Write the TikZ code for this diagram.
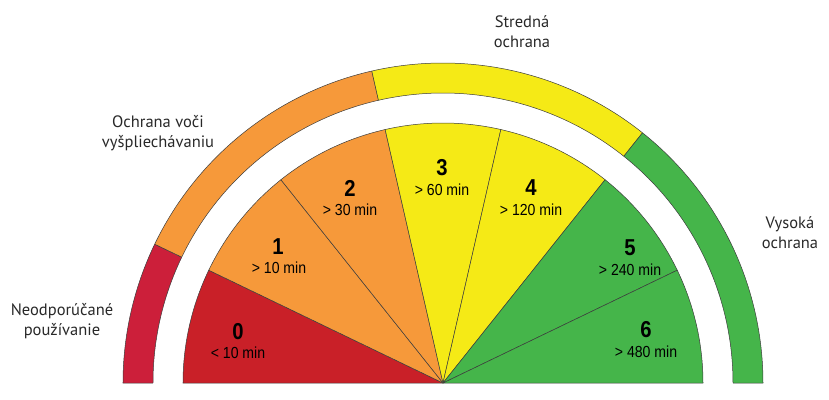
\documentclass[tikz,border=0pt]{standalone}
\usepackage{fontspec}
\setmainfont{PT Sans}
\newfontfamily\condf[FakeStretch=0.88]{Liberation Sans}
\definecolor{redA}{RGB}{201,32,40}
\definecolor{redR}{RGB}{204,31,58}
\definecolor{orangeA}{RGB}{246,153,58}
\definecolor{yellowA}{RGB}{245,234,22}
\definecolor{greenA}{RGB}{69,181,74}
\definecolor{linegray}{RGB}{60,60,60}
\definecolor{labgray}{RGB}{40,40,40}
\begin{document}
\begin{tikzpicture}[x=1pt,y=1pt,
  seg/.style={draw=linegray, line width=0.5pt, line join=round},
  lab/.style={text=labgray, font=\fontsize{16.5}{20}\selectfont, align=center},
  num/.style={font=\condf\bfseries\fontsize{23}{23}\selectfont, text=black},
  mins/.style={font=\condf\fontsize{16}{16}\selectfont, text=black}]
\useasboundingbox (-443,-16) rectangle (386,383);
\coordinate (C) at (0,0);
% inner fan sectors
\foreach \i/\col in {0/redA,1/orangeA,2/orangeA,3/yellowA,4/yellowA,5/greenA,6/greenA}{
  \pgfmathsetmacro{\sa}{180-\i*180/7}
  \pgfmathsetmacro{\ea}{180-(\i+1)*180/7}
  \path[seg, fill=\col] (C) -- (\sa:260) arc[start angle=\sa, end angle=\ea, radius=260] -- cycle;
}
% outer ring segments
\foreach \sa/\ea/\col in {180/154.2857/redR, 154.2857/102.8571/orangeA, 102.8571/51.4286/yellowA, 51.4286/0/greenA}{
  \path[seg, fill=\col] (\sa:290) -- (\sa:320) arc[start angle=\sa, end angle=\ea, radius=320]
    -- (\ea:290) arc[start angle=\ea, end angle=\sa, radius=290] -- cycle;
}
% sector labels
\node[num]  (n0) at (-205,51) {0};
\node[mins] (m0) at (-205,30) {< 10 min};
\node[num]  (n1) at (-165,136) {1};
\node[mins] (m1) at (-164,115) {> 10 min};
\node[num]  (n2) at (-93,195) {2};
\node[mins] (m2) at (-93,173) {> 30 min};
\node[num]  (n3) at (-1,215) {3};
\node[mins] (m3) at (-1,193) {> 60 min};
\node[num]  (n4) at (88,195) {4};
\node[mins] (m4) at (88,173) {> 120 min};
\node[num]  (n5) at (187,135) {5};
\node[mins] (m5) at (187,113) {> 240 min};
\node[num]  (n6) at (203,53) {6};
\node[mins] (m6) at (203,31) {> 480 min};
% outer labels
\node[lab] (l0) at (-381,62) {Neodporúčané\\používanie};
\node[lab] (l1) at (-285,250) {Ochrana voči\\vyšpliechávaniu};
\node[lab] (l2) at (79,351) {Stredná\\ochrana};
\node[lab] (l3) at (347,150) {Vysoká\\ochrana};
\end{tikzpicture}
\end{document}
